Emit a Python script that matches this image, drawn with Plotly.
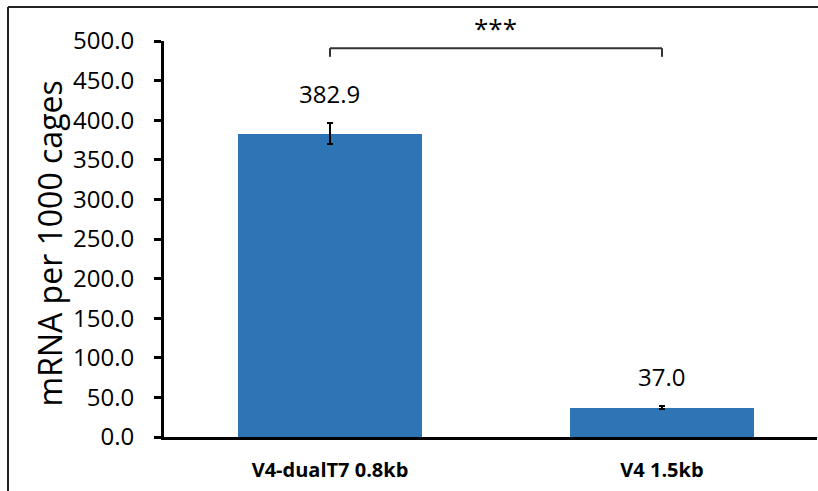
import plotly.graph_objects as go

# Data
categories = ["V4-dualT7 0.8kb", "V4 1.5kb"]
values = [382.9, 37.0]
errors = [13.0, 2.0]
value_labels = ["382.9", "37.0"]
y_ticks = [0, 50, 100, 150, 200, 250, 300, 350, 400, 450, 500]
significance = "***"

FONT = "Open Sans"
BLUE = "#2E75B6"

fig = go.Figure()
fig.add_trace(go.Bar(
    x=categories,
    y=values,
    width=0.555,
    marker=dict(color=BLUE, line=dict(width=0)),
    error_y=dict(type="data", array=errors, visible=True,
                 color="black", thickness=2, width=3),
    showlegend=False,
))

# Value labels above the error bars
for cat, v, e, lab in zip(categories, values, errors, value_labels):
    fig.add_annotation(x=cat, y=v + e, text=lab, showarrow=False,
                       xanchor="center", yanchor="bottom", yshift=11,
                       font=dict(family=FONT, size=24, color="black"))

# Significance bracket between the two bars
br_top, br_bottom = 491, 480
line_style = dict(color="#333333", width=2)
fig.add_shape(type="line", xref="x", yref="y", x0=categories[0], x1=categories[1],
              y0=br_top, y1=br_top, line=line_style)
fig.add_shape(type="line", xref="x", yref="y", x0=categories[0], x1=categories[0],
              y0=br_top, y1=br_bottom, line=line_style)
fig.add_shape(type="line", xref="x", yref="y", x0=categories[1], x1=categories[1],
              y0=br_top, y1=br_bottom, line=line_style)
fig.add_annotation(x=0.5, y=br_top, xref="x", yref="y", text=significance,
                   showarrow=False, yanchor="bottom", yshift=0,
                   font=dict(family=FONT, size=26, color="black"))

# Y axis title
fig.add_annotation(x=-0.176, y=0.489, xref="paper", yref="paper",
                   text="mRNA per 1000 cages", textangle=-90, showarrow=False,
                   xanchor="center", yanchor="middle",
                   font=dict(family=FONT, size=32, color="black"))

# Frame lines around the chart area
frame = dict(color="#222222", width=2)
fig.add_shape(type="line", xref="paper", yref="paper", x0=-0.2389, x1=1.02,
              y0=1.0859, y1=1.0859, line=frame)
fig.add_shape(type="line", xref="paper", yref="paper", x0=-0.2389, x1=-0.2389,
              y0=1.0859, y1=-0.14, line=frame)

fig.update_layout(
    width=818, height=491,
    margin=dict(l=164, r=1, t=41, b=54),
    paper_bgcolor="white", plot_bgcolor="white",
    font=dict(family=FONT, color="black"),
    bargap=0,
    xaxis=dict(
        type="category",
        range=[-0.5, 1.467],
        showline=True, linecolor="black", linewidth=3,
        ticks="", showgrid=False, zeroline=False,
        tickfont=dict(family=FONT, size=20, color="black", weight="bold"),
        ticklabelstandoff=13,
    ),
    yaxis=dict(
        range=[0, 500],
        tickvals=y_ticks,
        ticktext=[f"{t:.1f}" for t in y_ticks],
        showline=True, linecolor="black", linewidth=3,
        ticks="outside", ticklen=7, tickwidth=3, tickcolor="black",
        showgrid=False, zeroline=False,
        tickfont=dict(family=FONT, size=24, color="black"),
        ticklabelstandoff=15,
    ),
)

fig.write_html("out.html")
